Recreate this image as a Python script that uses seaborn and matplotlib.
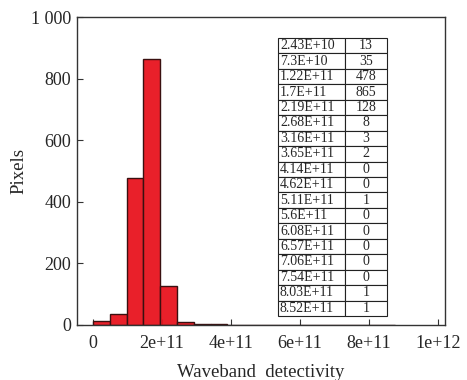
import numpy as np
import pandas as pd
import matplotlib
matplotlib.use("Agg")
import matplotlib.pyplot as plt
import seaborn as sns

# bin centres and pixel counts (also shown in the table)
centre_labels = ["2.43E+10", "7.3E+10", "1.22E+11", "1.7E+11", "2.19E+11", "2.68E+11",
                 "3.16E+11", "3.65E+11", "4.14E+11", "4.62E+11", "5.11E+11", "5.6E+11",
                 "6.08E+11", "6.57E+11", "7.06E+11", "7.54E+11", "8.03E+11", "8.52E+11"]
counts = [13, 35, 478, 865, 128, 8, 3, 2, 0, 0, 1, 0, 0, 0, 0, 0, 1, 1]
x_ticks = [0, 2e11, 4e11, 6e11, 8e11, 1e12]
x_tick_labels = ["0", "2e+11", "4e+11", "6e+11", "8e+11", "1e+12"]
y_ticks = [0, 200, 400, 600, 800, 1000]
y_tick_labels = ["0", "200", "400", "600", "800", "1 000"]

centres = np.array([float(s) for s in centre_labels])
width = (centres[-1] - centres[0]) / (len(centres) - 1)
edges = list(np.append(centres - width / 2, centres[-1] + width / 2))
df = pd.DataFrame({"detectivity": centres, "pixels": counts})

sns.set_style("ticks")
plt.rcParams["font.family"] = ["serif"]
plt.rcParams["font.serif"] = ["Liberation Serif", "Times New Roman", "DejaVu Serif"]

fig = plt.figure(figsize=(4.67, 3.8), dpi=100)
ax = fig.add_axes([0.165, 0.145, 0.788, 0.81])

sns.histplot(data=df, x="detectivity", weights="pixels", bins=edges,
             color="#e8141e", edgecolor="#3a1010", linewidth=1.0, alpha=0.95, ax=ax)

ax.set_xlim(-4.6e10, 1.02e12)
ax.set_ylim(0, 1000)
ax.set_xticks(x_ticks)
ax.set_xticklabels(x_tick_labels)
ax.set_yticks(y_ticks)
ax.set_yticklabels(y_tick_labels)
ax.tick_params(direction="in", labelsize=13, length=4, color="#333333")
ax.tick_params(axis="x", pad=7)
ax.tick_params(axis="y", pad=4)
for s in ax.spines.values():
    s.set_visible(True)
    s.set_color("#333333")
    s.set_linewidth(1.0)

ax.set_xlabel("Waveband  detectivity", fontsize=13.5, labelpad=9)
ax.set_ylabel("Pixels", fontsize=13.5, labelpad=3)

cell_text = [[c, str(n)] for c, n in zip(centre_labels, counts)]
tbl = ax.table(cellText=cell_text, cellLoc="left", colWidths=[67, 42],
               bbox=[0.546, 0.029, 0.296, 0.903])
tbl.auto_set_font_size(False)
tbl.set_fontsize(10)
for (r, c), cell in tbl.get_celld().items():
    cell.set_edgecolor("#222222")
    cell.set_linewidth(0.8)
    cell.PAD = 0.03
    if c == 1:
        cell.get_text().set_ha("center")
        cell._loc = "center"

fig.savefig("out.png", dpi=100)
